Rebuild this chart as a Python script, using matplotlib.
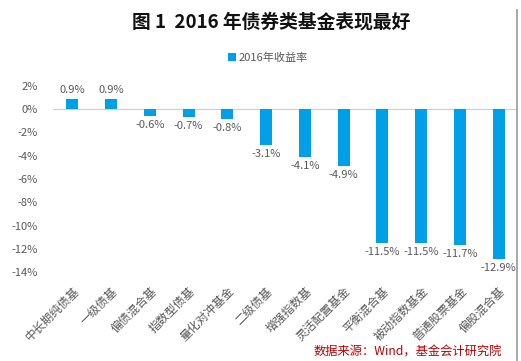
import matplotlib.pyplot as plt
import numpy as np
from matplotlib.lines import Line2D
from matplotlib.patches import Patch

plt.rcParams['font.family'] = ['Noto Sans CJK SC', 'DejaVu Sans']
plt.rcParams['axes.unicode_minus'] = False

# データ
categories = ['中长期纯债基', '一级债基', '偏债混合基', '指数型债基', '量化对冲基金', '二级债基',
              '增强指数基', '灵活配置基金', '平衡混合基', '被动指数基金', '普通股票基金', '偏股混合基']
returns = [0.9, 0.9, -0.6, -0.7, -0.8, -3.1, -4.1, -4.9, -11.5, -11.5, -11.7, -12.9]
yticks = [2, 0, -2, -4, -6, -8, -10, -12, -14]

bar_color = '#00A0E9'
text_color = '#595959'

fig = plt.figure(figsize=(5.21, 3.61), dpi=100)
ax = fig.add_axes([53 / 521, 1 - 272 / 361, 465 / 521, 186 / 361])

x = np.arange(len(categories))
ax.bar(x, returns, width=0.31, color=bar_color, zorder=2)
ax.axhline(0, color='#D0D0D0', lw=0.9, zorder=1)

for xi, v in zip(x, returns):
    if v >= 0:
        ax.text(xi, v + 0.35, f'{v:.1f}%', ha='center', va='bottom', fontsize=8, color=text_color)
    else:
        ax.text(xi, v - 0.35, f'{v:.1f}%', ha='center', va='top', fontsize=8, color=text_color)

ax.set_xlim(-0.5, len(categories) - 0.5)
ax.set_ylim(-14, 2)
ax.set_yticks(yticks)
ax.set_yticklabels([f'{t}%' for t in yticks], fontsize=8, color=text_color)
ax.set_xticks(x)
ax.set_xticklabels(categories, rotation=45, ha='right', rotation_mode='anchor',
                   fontsize=8.5, color=text_color)
ax.tick_params(axis='y', length=0, pad=11)
ax.tick_params(axis='x', length=0, pad=9)
for s in ax.spines.values():
    s.set_visible(False)

# タイトル
fig.text(271 / 521, 1 - 22 / 361, '图 1  2016 年债券类基金表现最好', ha='center', va='center',
         fontsize=13.5, fontweight='bold', color='#111111')

# 凡例
fig.legend(handles=[Patch(facecolor=bar_color, label='2016年收益率')],
           loc='center', bbox_to_anchor=(268 / 521, 1 - 58 / 361), frameon=False,
           fontsize=8, handlelength=0.7, handleheight=0.7, handletextpad=0.3,
           labelcolor=text_color)

# 出典
fig.text(314 / 521, 2 / 361, '数据来源：Wind，基金会计研究院', ha='left', va='bottom',
         fontsize=8.8, color='#C00000')

# 右側の枠線
fig.add_artist(Line2D([517 / 521, 517 / 521], [0, 1 - 10 / 361], color='#999999', lw=1.2))

plt.savefig('out.png', dpi=100)
